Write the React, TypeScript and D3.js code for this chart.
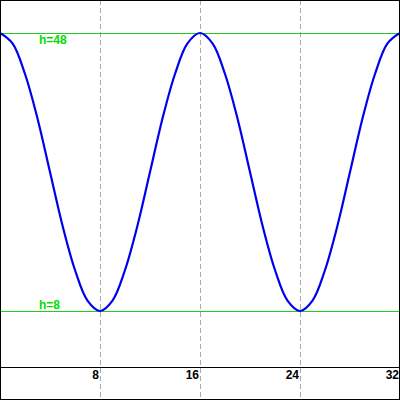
import React from "react";
import * as d3 from "d3";

const xs = [0, 1, 2, 3, 4, 5, 6, 7, 8, 9, 10, 11, 12, 13, 14, 15, 16, 17, 18, 19, 20, 21, 22, 23, 24, 25, 26, 27, 28, 29, 30, 31, 32];
const heights = [48, 46.5, 42.1, 35.7, 28, 20.3, 13.9, 9.5, 8, 9.5, 13.9, 20.3, 28, 35.7, 42.1, 46.5, 48, 46.5, 42.1, 35.7, 28, 20.3, 13.9, 9.5, 8, 9.5, 13.9, 20.3, 28, 35.7, 42.1, 46.5, 48];
const xTicks = [8, 16, 24, 32];
const gridXs = [8, 16, 24];
const refLevels = [
  { h: 48, label: "h=48", below: true },
  { h: 8, label: "h=8", below: false },
];

export default function App() {
  const W = 400;
  const H = 400;
  const x = d3.scaleLinear().domain([0, 32]).range([0, 400]);
  const y = d3.scaleLinear().domain([8, 48]).range([311, 33]);
  const pts = xs.map((v, i) => [v, heights[i]] as [number, number]);
  const line = d3
    .line<[number, number]>()
    .x((d) => x(d[0]))
    .y((d) => y(d[1]))
    .curve(d3.curveCatmullRom);
  const font = "'Liberation Sans', Arial, sans-serif";
  return (
    <svg
      width={W}
      height={H}
      style={{ position: "absolute", left: 0, top: 0, background: "#fff" }}
    >
      <rect x={0} y={0} width={W} height={H} fill="#fff" />
      {gridXs.map((g) => (
        <line
          key={g}
          x1={Math.round(x(g)) + 0.5}
          x2={Math.round(x(g)) + 0.5}
          y1={0}
          y2={H}
          stroke="#aaa"
          strokeDasharray="5,3"
          shapeRendering="crispEdges"
        />
      ))}
      {refLevels.map((r) => (
        <line
          key={r.h}
          x1={0}
          x2={W}
          y1={Math.round(y(r.h)) + 0.5}
          y2={Math.round(y(r.h)) + 0.5}
          stroke="#2c2"
          shapeRendering="crispEdges"
        />
      ))}
      <line
        x1={0}
        x2={W}
        y1={Math.round(y(0)) + 0.5}
        y2={Math.round(y(0)) + 0.5}
        stroke="#000"
        shapeRendering="crispEdges"
      />
      {xTicks.map((t) => (
        <text
          key={t}
          x={x(t) - 1}
          y={Math.round(y(0)) + 12}
          textAnchor="end"
          fontFamily={font}
          fontWeight="bold"
          fontSize={12}
          fill="#000"
        >
          {t}
        </text>
      ))}
      {refLevels.map((r) => (
        <text
          key={r.label}
          x={39}
          y={r.below ? y(r.h) + 11 : y(r.h) - 2}
          fontFamily={font}
          fontWeight="bold"
          fontSize={12}
          fill="#0d0"
        >
          {r.label}
        </text>
      ))}
      <path d={line(pts) || ""} fill="none" stroke="#0000ee" strokeWidth={2.2} />
      <rect
        x={0.5}
        y={0.5}
        width={W - 1}
        height={H - 1}
        fill="none"
        stroke="#000"
        shapeRendering="crispEdges"
      />
    </svg>
  );
}
